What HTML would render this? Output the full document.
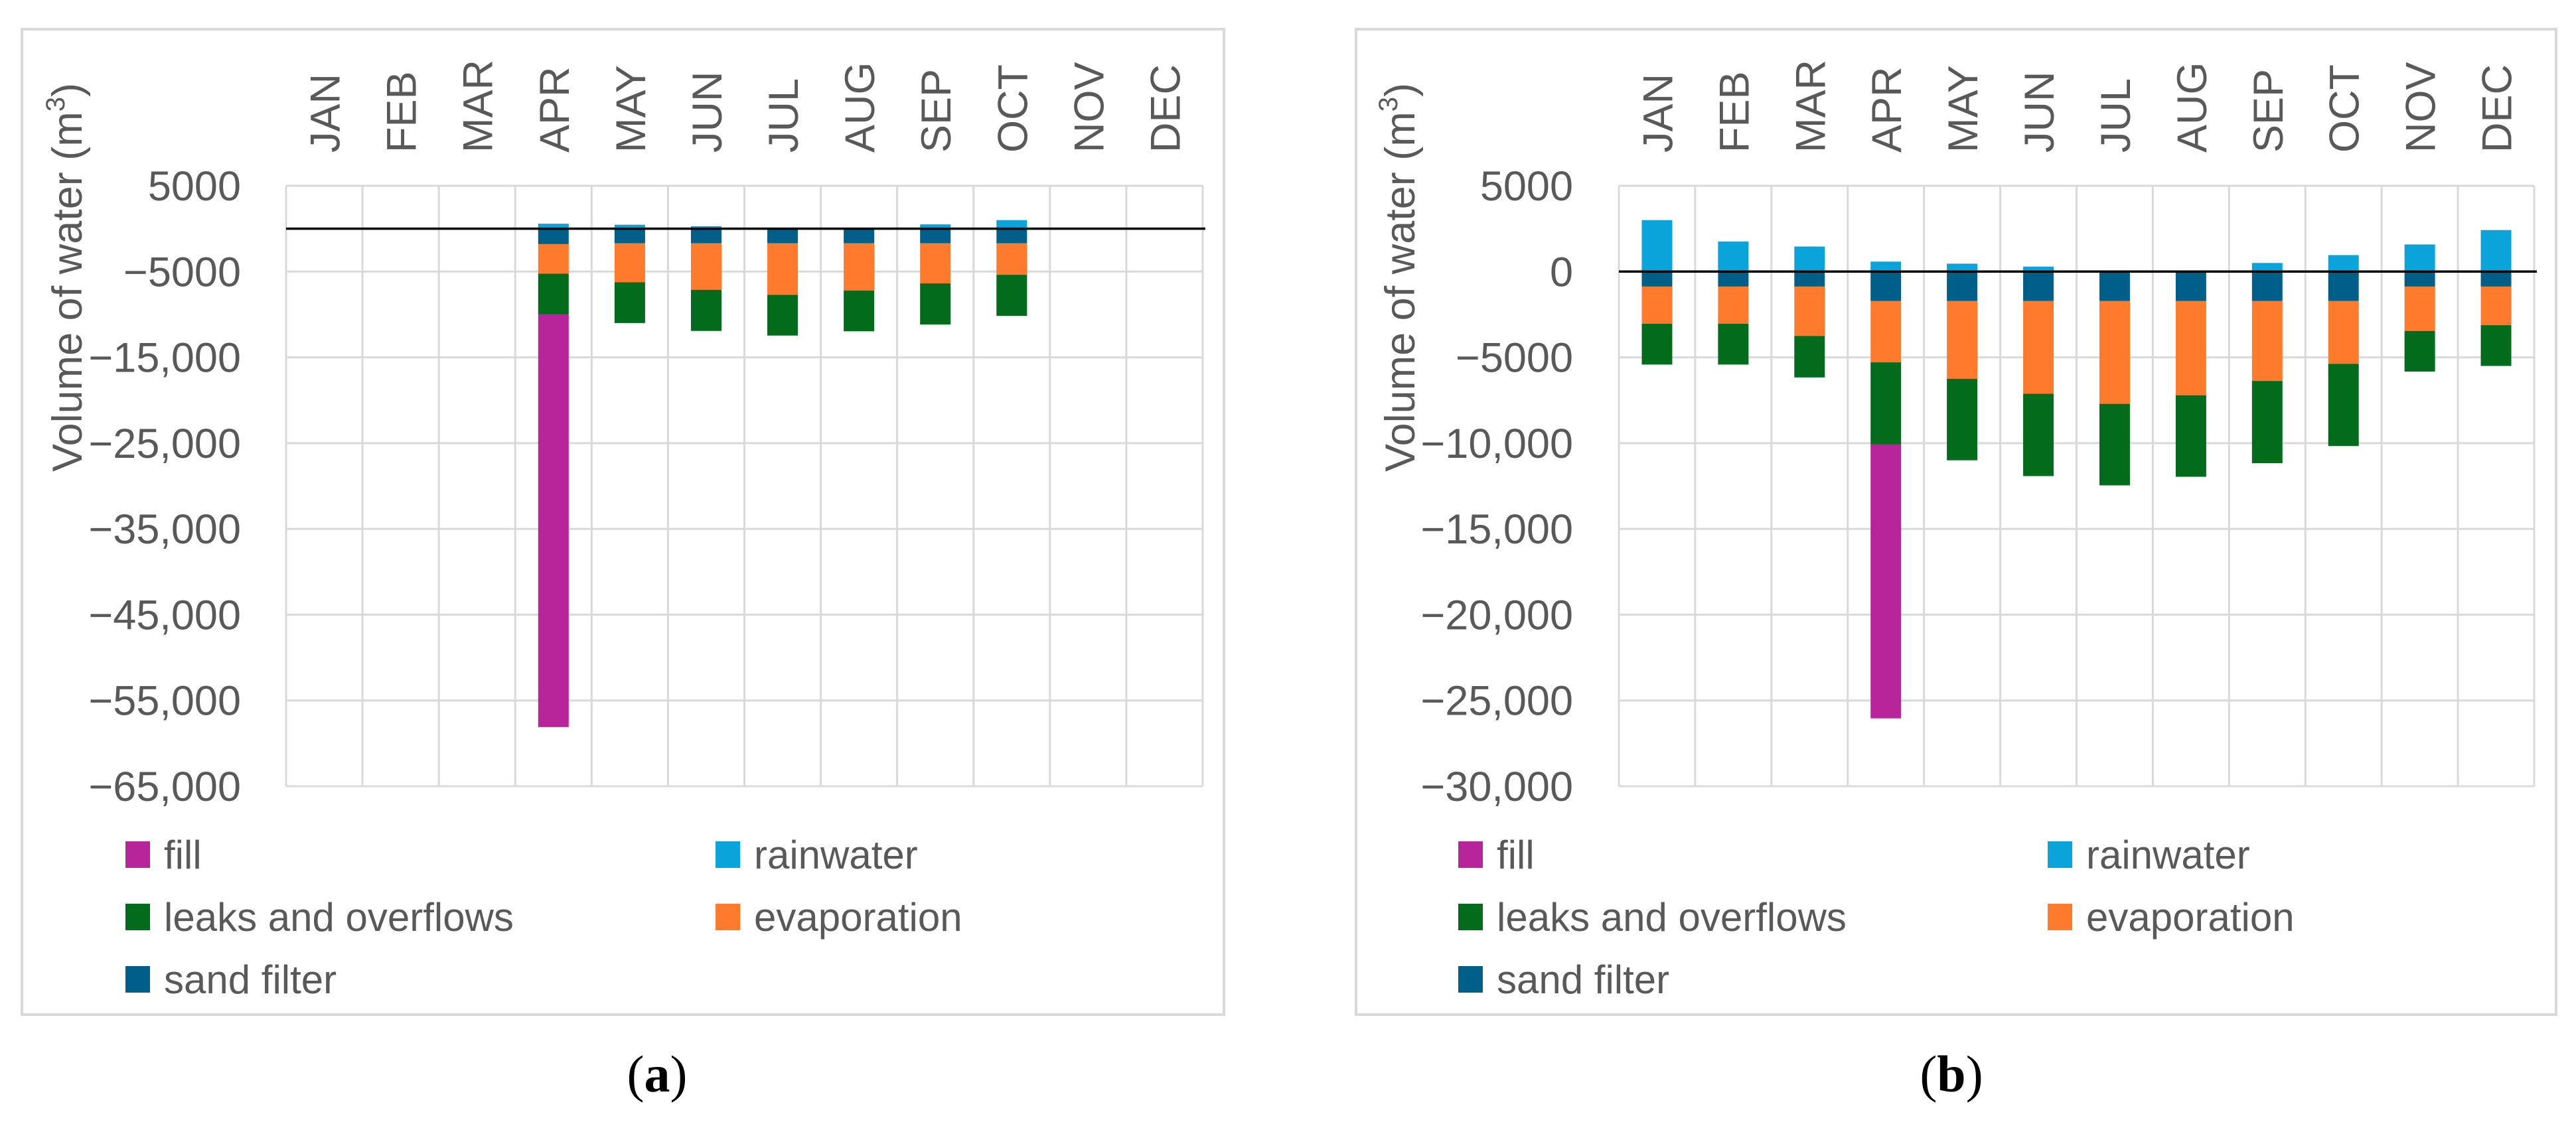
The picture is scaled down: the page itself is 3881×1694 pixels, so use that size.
<!DOCTYPE html>
<html><head><meta charset="utf-8"><style>
html,body{margin:0;padding:0;background:#fff;width:3881px;height:1694px;overflow:hidden}
svg text{font-family:"Liberation Sans",sans-serif;fill:#595959}
</style></head><body>
<svg id="svg" width="3881" height="1694" xmlns="http://www.w3.org/2000/svg"></svg>
<script>
const months = ["JAN","FEB","MAR","APR","MAY","JUN","JUL","AUG","SEP","OCT","NOV","DEC"];
// chart (a) values, m3 (magnitudes; losses drawn below zero)
const aRain  = [0,0,0,580,460,290,0,0,500,1000,0,0];
const aSand  = [0,0,0,1800,1710,1710,1710,1710,1710,1710,0,0];
const aEvap  = [0,0,0,3450,4540,5415,6000,5500,4665,3665,0,0];
const aLeaks = [0,0,0,4750,4750,4795,4750,4750,4795,4795,0,0];
const aFill  = [0,0,0,48100,0,0,0,0,0,0,0,0];
const aTicks = [5000,-5000,-15000,-25000,-35000,-45000,-55000,-65000];
const aTickLabels = ["5000","\u22125000","\u221215,000","\u221225,000","\u221235,000","\u221245,000","\u221255,000","\u221265,000"];
// chart (b) values
const bRain  = [3000,1750,1460,580,460,290,0,0,500,960,1580,2420];
const bSand  = [875,875,875,1710,1710,1710,1710,1710,1710,1710,875,875];
const bEvap  = [2165,2165,2875,3580,4540,5415,6000,5500,4665,3665,2585,2250];
const bLeaks = [2380,2380,2420,4790,4750,4795,4750,4750,4795,4795,2370,2375];
const bFill  = [0,0,0,15960,0,0,0,0,0,0,0,0];
const bTicks = [5000,0,-5000,-10000,-15000,-20000,-25000,-30000];
const bTickLabels = ["5000","0","\u22125000","\u221210,000","\u221215,000","\u221220,000","\u221225,000","\u221230,000"];

const C = {fill:"#b8259a", rain:"#0aa3da", leaks:"#036b1c", evap:"#fe7a2c", sand:"#005f88"};
const NS = "http://www.w3.org/2000/svg";
const svg = document.getElementById("svg");
function el(tag, attrs, parent){const e=document.createElementNS(NS,tag);for(const k in attrs)e.setAttribute(k,attrs[k]);(parent||svg).appendChild(e);return e;}

function chart(cfg){
  const g = el("g",{});
  
  
  const {ox,oy,ow,oh,px0,px1,py0,py1,ymax,ymin} = cfg;
  const fr = el("rect",{x:ox,y:oy,width:ow,height:oh,fill:"#fff",stroke:"#d9d9d9","stroke-width":4},g);
  
  
  const y = v => py0 + (ymax - v)/(ymax - ymin)*(py1 - py0);
  const cw = (px1-px0)/months.length;
  const x = i => px0 + i*cw;
  // gridlines
  cfg.ticks.forEach((t,i)=>{
    const l = el("line",{x1:px0,x2:px1,y1:y(t),y2:y(t),stroke:"#d9d9d9","stroke-width":3},g);
    
    
    const tx = el("text",{x:cfg.tickX,y:y(t)+22,"text-anchor":"end","font-size":63},g);
    tx.textContent = cfg.tickLabels[i];
    
    
  });
  for(let i=0;i<=months.length;i++){
    const l = el("line",{x1:x(i),x2:x(i),y1:py0,y2:py1,stroke:"#d9d9d9","stroke-width":3},g);
    
    
  }
  months.forEach((m,i)=>{
    const cx = x(i)+cw/2;
    const t = el("text",{x:0,y:0,"font-size":63,transform:`translate(${cx+23},230) rotate(-90)`},g);
    t.textContent = m;
    
    
  });
  const bw = cw*0.4;
  months.forEach((m,i)=>{
    const bx = x(i)+cw/2-bw/2;
    let acc = 0;
    const segs = [["sand",cfg.sand[i]],["evap",cfg.evap[i]],["leaks",cfg.leaks[i]],["fill",cfg.fill[i]]];
    segs.forEach(([k,v])=>{
      if(v>0){
        const r = el("rect",{x:bx,y:y(-acc),width:bw,height:y(-acc-v)-y(-acc),fill:C[k]},g);
        
        
      }
      acc += v;
    });
    if(cfg.rain[i]>0){
      const r = el("rect",{x:bx,y:y(cfg.rain[i]),width:bw,height:y(0)-y(cfg.rain[i]),fill:C.rain},g);
      
      
    }
  });
  const z = el("line",{x1:px0,x2:px1+4,y1:y(0),y2:y(0),stroke:"#000","stroke-width":3.5},g);
  
  
  // y title
  const yt = el("text",{x:0,y:0,"font-size":63,"text-anchor":"middle",transform:`translate(${cfg.titleX},418) rotate(-90)`},g);
  
  
  yt.appendChild(document.createTextNode("Volume of water (m"));
  const sup = el("tspan",{"font-size":40,dy:-26},yt); sup.textContent="3";
  const cl = el("tspan",{dy:26},yt); cl.textContent=")";
  // legend
  const L = [["fill","fill",0,0],["rain","rainwater",1,0],["leaks","leaks and overflows",0,1],["evap","evaporation",1,1],["sand","sand filter",0,2]];
  L.forEach(([k,lab,col,row])=>{
    const sx = col? cfg.legX2 : cfg.legX1;
    const cy = 1288 + row*94;
    const sw = el("rect",{x:sx,y:cy-20,width:37,height:40,fill:C[k]},g);
    
    
    const t = el("text",{x:sx+58,y:cy+21,"font-size":60},g);
    t.textContent = lab;
    
    
  });
  const cap = el("text",{x:cfg.capX,y:1645,"text-anchor":"middle","font-size":78,style:"font-family:'Liberation Serif',serif;fill:#000"},g);
  
  
  cap.appendChild(document.createTextNode("("));
  const b = el("tspan",{"font-weight":"bold"},cap); b.textContent = cfg.letter;
  cap.appendChild(document.createTextNode(")"));
}
chart({name:"chart-a",ox:33,oy:44,ow:1811,oh:1485,px0:431,px1:1812,py0:280,py1:1185,ymax:5000,ymin:-65000,
  ticks:aTicks,tickLabels:aTickLabels,tickX:363,titleX:123,rain:aRain,sand:aSand,evap:aEvap,leaks:aLeaks,fill:aFill,
  legX1:189,legX2:1078,capX:990,letter:"a"});
chart({name:"chart-b",ox:2043,oy:44,ow:1808,oh:1485,px0:2439,px1:3818,py0:280,py1:1185,ymax:5000,ymin:-30000,
  ticks:bTicks,tickLabels:bTickLabels,tickX:2370,titleX:2131,rain:bRain,sand:bSand,evap:bEvap,leaks:bLeaks,fill:bFill,
  legX1:2197,legX2:3085,capX:2940,letter:"b"});
</script>
</body></html>
